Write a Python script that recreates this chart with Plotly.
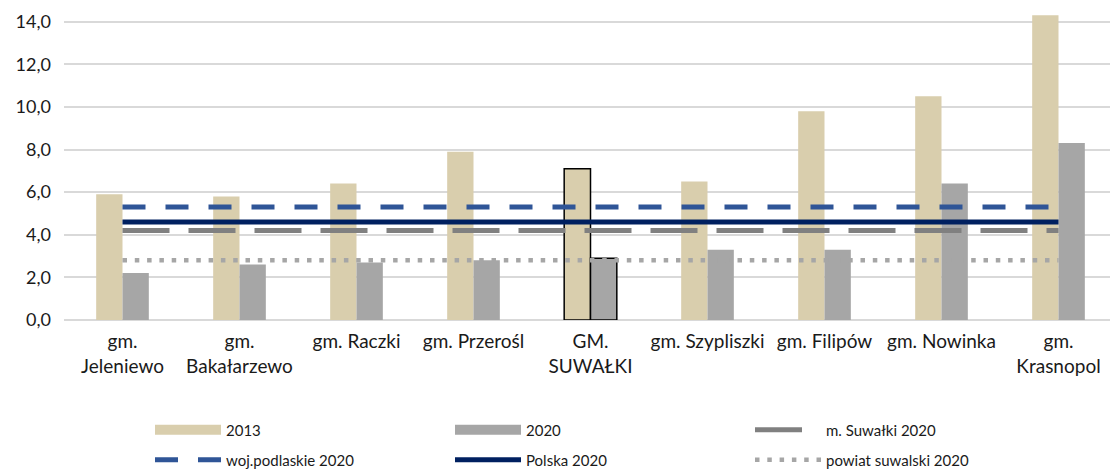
import plotly.graph_objects as go

categories = ["gm.<br>Jeleniewo", "gm.<br>Bakałarzewo", "gm. Raczki", "gm. Przerośl",
              "GM.<br>SUWAŁKI", "gm. Szypliszki", "gm. Filipów", "gm. Nowinka", "gm.<br>Krasnopol"]
values_2013 = [5.9, 5.8, 6.4, 7.9, 7.1, 6.5, 9.8, 10.5, 14.3]
values_2020 = [2.2, 2.6, 2.7, 2.8, 2.9, 3.3, 3.3, 6.4, 8.3]
m_suwalki_2020 = 4.2
woj_podlaskie_2020 = 5.3
polska_2020 = 4.6
powiat_suwalski_2020 = 2.8
y_ticks = [0, 2, 4, 6, 8, 10, 12, 14]

C2013 = "#D9CEAD"
C2020 = "#A6A6A6"
highlight = [c.startswith("GM.") for c in categories]
outline_w = [1.5 if h else 0 for h in highlight]

FONT = "Lato"
W, H = 1110, 461  # page body has an 8px margin

fig = go.Figure()
fig.add_trace(go.Bar(x=categories, y=values_2013, name="2013", marker_color=C2013,
                     marker_line=dict(color="black", width=outline_w), showlegend=False))
fig.add_trace(go.Bar(x=categories, y=values_2020, name="2020", marker_color=C2020,
                     marker_line=dict(color="black", width=outline_w), showlegend=False))

n = len(categories)
# legend proxies for bars (wide rectangles)
fig.add_trace(go.Scatter(x=[None], y=[None], mode="lines", name="2013",
                         line=dict(color=C2013, width=10), legend="legend"))
fig.add_trace(go.Scatter(x=[None], y=[None], mode="lines", name="2020",
                         line=dict(color=C2020, width=10), legend="legend"))
fig.add_trace(go.Scatter(x=categories, y=[m_suwalki_2020] * n, mode="lines", name="m. Suwałki 2020",
                         line=dict(color="#808080", width=5, dash="47px,19px"), legend="legend"))
fig.add_trace(go.Scatter(x=categories, y=[woj_podlaskie_2020] * n, mode="lines", name="woj.podlaskie 2020",
                         line=dict(color="#2F5597", width=5, dash="23px,20px"), legend="legend2"))
fig.add_trace(go.Scatter(x=categories, y=[polska_2020] * n, mode="lines", name="Polska 2020",
                         line=dict(color="#002060", width=5), legend="legend2"))
fig.add_trace(go.Scatter(x=categories, y=[powiat_suwalski_2020] * n, mode="lines", name="powiat suwalski 2020",
                         line=dict(color="#A6A6A6", width=4.5, dash="4.5px,7.8px"), legend="legend2"))

legend_common = dict(orientation="h", entrywidth=219, entrywidthmode="pixels", itemwidth=66,
                     xanchor="left", yanchor="middle", xref="container", yref="container",
                     font=dict(family=FONT, size=15, color="#1a1a1a"),
                     bgcolor="rgba(0,0,0,0)", traceorder="normal")

fig.update_layout(
    width=W, height=H,
    margin=dict(l=56, r=1, t=3, b=149, autoexpand=False),
    paper_bgcolor="white", plot_bgcolor="white",
    barmode="group", bargap=0.55, bargroupgap=0,
    separators=",.",
    font=dict(family=FONT, size=16, color="#1a1a1a"),
    legend=dict(x=142 / W, y=1 - 422 / H, **legend_common),
    legend2=dict(x=142 / W, y=1 - 452 / H, **legend_common),
    xaxis=dict(showgrid=False, ticks="", showline=False, tickfont=dict(size=19),
               ticklabelstandoff=8, automargin=False),
    yaxis=dict(range=[0, 14.5], tickvals=y_ticks, tickformat=".1f", showgrid=True,
               gridcolor="#D9D9D9", gridwidth=1.5, zeroline=True, zerolinecolor="#D9D9D9",
               zerolinewidth=1.5, ticks="", tickfont=dict(size=18), automargin=False,
               ticklabelstandoff=12),
)

fig.write_html("out.html")
